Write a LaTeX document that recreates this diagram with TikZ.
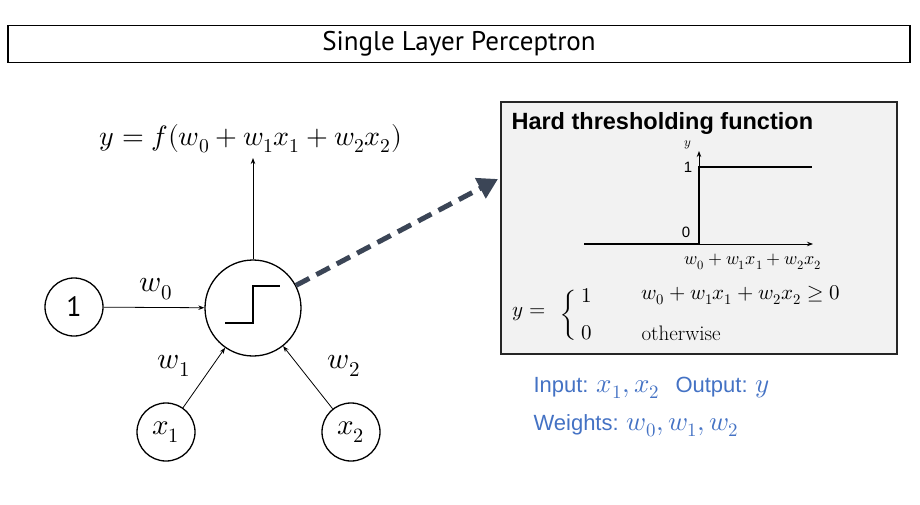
\documentclass[tikz,border=0pt]{standalone}
\usepackage{fontspec}
\usepackage{unicode-math}
\setmathfont{Latin Modern Math}
\usetikzlibrary{arrows.meta}
\newfontfamily\arialf{Liberation Sans}
\newfontfamily\gillf{PT Sans}
\definecolor{dashcol}{HTML}{3B4556}
\definecolor{boxgray}{HTML}{F2F2F2}
\definecolor{bluetxt}{HTML}{4472C4}
\newcommand{\bluemath}[1]{{\fontsize{27}{29}\selectfont$#1$}}
\tikzset{
  neur/.style={circle,draw,line width=1.3pt,inner sep=0pt},
  wire/.style={-{Stealth[length=6pt,width=4.5pt]},line width=0.8pt},
  wlab/.style={font=\fontsize{30}{32}\selectfont},
  pw/.style={font=\fontsize{21}{23}\selectfont},
}
\begin{document}
\begin{tikzpicture}[x=1pt,y=-1pt]
\useasboundingbox (0,0) rectangle (920,504);
% title
\node[draw,line width=1.8pt,minimum width=902pt,minimum height=37pt,inner sep=0pt,
  font=\gillf\fontsize{27}{29}\selectfont] (title) at (459,44) {Single Layer Perceptron};
% neurons
\node[neur,minimum size=96pt] (n) at (253,308) {};
\node[neur,minimum size=58pt,font=\gillf\fontsize{28}{30}\selectfont] (one) at (74,307) {1};
\node[neur,minimum size=58pt,font=\fontsize{29}{31}\selectfont] (x1) at (166,432) {$x_1$};
\node[neur,minimum size=58pt,font=\fontsize{29}{31}\selectfont] (x2) at (351,432) {$x_2$};
% step glyph
\draw[line width=1.8pt] (225,323) -- (253,323) -- (253,286) -- (280,286);
% wires
\draw[wire] (one) -- (n);
\draw[wire] (x1) -- (n);
\draw[wire] (x2) -- (n);
\node[wlab] (w0) at (156,289) {$w_0$};
\node[wlab] (w1) at (174,366) {$w_1$};
\node[wlab] (w2) at (344,366) {$w_2$};
% output
\node[font=\fontsize{28}{30}\selectfont] (out) at (251,139) {$y=f(w_0+w_1x_1+w_2x_2)$};
\coordinate (outtip) at (253,158);
\draw[wire] (n) -- (outtip);
% gray box
\node[draw=black!85,line width=1.5pt,fill=boxgray,minimum width=396pt,minimum height=252pt,inner sep=0pt] (gbox) at (699,228) {};
\node[anchor=base west,font=\arialf\bfseries\fontsize{23.5}{25}\selectfont] (htf) at (508,129) {Hard thresholding function};
% graph
\coordinate (ax0) at (584,244);
\coordinate (ax1) at (813,244);
\coordinate (o) at (699,244);
\coordinate (ay1) at (699,151);
\draw[-{Stealth[length=6pt,width=4.5pt]},line width=0.9pt] (ax0) -- (ax1);
\draw[-{Stealth[length=6pt,width=4.5pt]},line width=0.9pt] (o) -- (ay1);
\draw[line width=1.8pt] (ax0) -- (o) -- (699,167) -- (812,167);
\node[font=\fontsize{13}{14}\selectfont,inner sep=1pt] (ylab) at (688,145) {$y$};
\node[font=\arialf\fontsize{15}{16}\selectfont] (one1) at (688,167) {1};
\node[font=\arialf\fontsize{15}{16}\selectfont] (zero0) at (686,232) {0};
\node[font=\fontsize{18}{19}\selectfont] (axl) at (753,262) {$w_0+w_1x_1+w_2x_2$};
% piecewise
\node[pw] (yeq) at (529,314) {$y=$};
\node[pw,inner sep=0pt] (brace) at (569,316) {$\left\{\rule[-22pt]{0pt}{44pt}\right.$};
\node[pw,anchor=west] (c1) at (578,295) {$1$};
\node[pw,anchor=west] (c0) at (578,333) {$0$};
\node[pw,anchor=west] (cond) at (638,295) {$w_0+w_1x_1+w_2x_2\geq0$};
\node[pw,anchor=west] (oth) at (638,333) {otherwise};
% dashed arrow
\coordinate (dtip) at (498,179);
\draw[dashcol,line width=5pt,dash pattern=on 15pt off 8pt,-{Triangle[length=20pt,width=22pt]}] (n) -- (dtip);
% blue text
\node[anchor=base west,text=bluetxt,font=\arialf\fontsize{22}{24}\selectfont] (inp) at (530,392) {Input: \bluemath{x_1,x_2}\hspace{16pt}Output: \bluemath{y}};
\node[anchor=base west,text=bluetxt,font=\arialf\fontsize{22}{24}\selectfont] (wts) at (530,430) {Weights: \bluemath{w_0,w_1,w_2}};
\end{tikzpicture}
\end{document}
